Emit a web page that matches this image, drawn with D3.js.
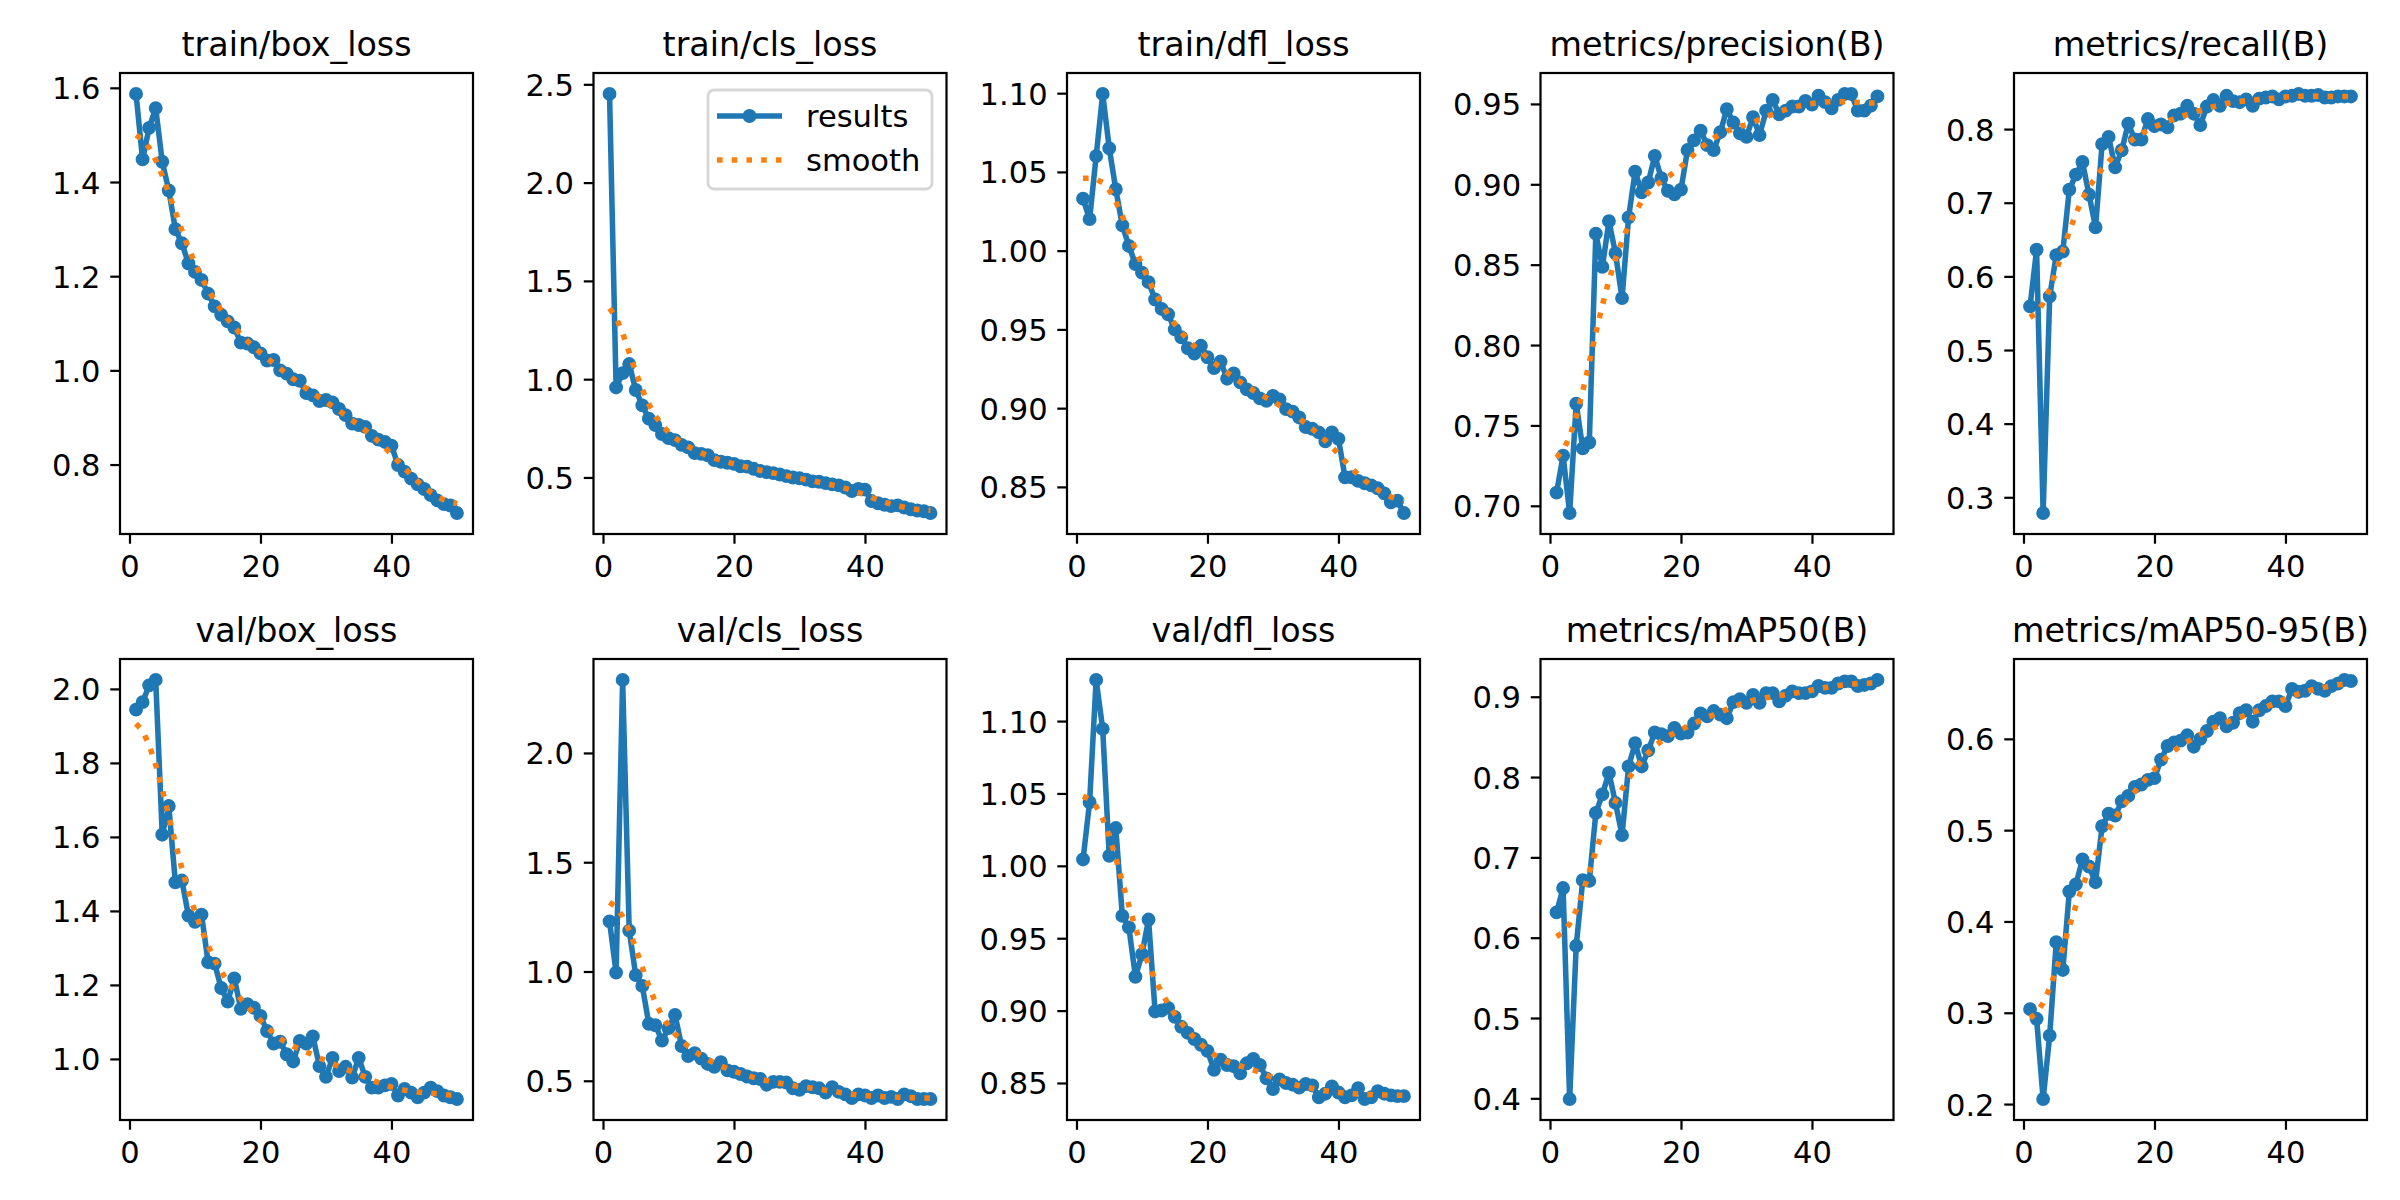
<!DOCTYPE html>
<html>
<head>
<meta charset="utf-8">
<script src="https://cdn.jsdelivr.net/npm/d3@7"></script>
<style>
  body { margin: 0; background: #fff; }
  svg { display: block; }
  text { font-family: "DejaVu Sans", sans-serif; fill: #000; }
</style>
</head>
<body>
<svg id="chart" width="2400" height="1200"></svg>
<script>
// ---------------- data ----------------
const epochs = d3.range(1, 51);

const titles = [
  "train/box_loss", "train/cls_loss", "train/dfl_loss", "metrics/precision(B)", "metrics/recall(B)",
  "val/box_loss", "val/cls_loss", "val/dfl_loss", "metrics/mAP50(B)", "metrics/mAP50-95(B)"
];

const trainBoxLoss = [1.587,1.448,1.515,1.557,1.443,1.382,1.300,1.270,1.227,1.209,
  1.192,1.163,1.136,1.118,1.104,1.091,1.059,1.057,1.049,1.036,
  1.021,1.022,1.000,0.993,0.981,0.978,0.952,0.947,0.935,0.937,
  0.932,0.918,0.905,0.887,0.884,0.880,0.861,0.853,0.848,0.840,
  0.799,0.785,0.770,0.758,0.748,0.735,0.724,0.716,0.713,0.697];

const trainClsLoss = [2.451,0.958,1.031,1.077,0.945,0.867,0.799,0.766,0.721,0.700,
  0.690,0.666,0.653,0.624,0.620,0.613,0.588,0.580,0.575,0.569,
  0.557,0.555,0.544,0.533,0.527,0.522,0.515,0.507,0.500,0.496,
  0.489,0.480,0.478,0.471,0.465,0.460,0.449,0.431,0.442,0.438,
  0.380,0.369,0.361,0.354,0.358,0.347,0.338,0.332,0.328,0.319];

const trainDflLoss = [1.033,1.020,1.060,1.0995,1.065,1.039,1.016,1.003,0.9915,0.986,
  0.980,0.969,0.963,0.9596,0.950,0.945,0.938,0.9346,0.9396,0.9323,
  0.9255,0.9296,0.9187,0.922,0.9164,0.9119,0.9096,0.9062,0.9046,0.9078,
  0.9055,0.8994,0.8978,0.8941,0.888,0.8869,0.8846,0.8789,0.8846,0.8805,
  0.8561,0.8561,0.8538,0.8523,0.851,0.8491,0.8459,0.8402,0.8413,0.8334];

const precision = [0.7082,0.7312,0.6955,0.7635,0.7357,0.7394,0.8693,0.8486,0.8771,0.8571,
  0.8292,0.8794,0.9079,0.895,0.9011,0.9177,0.9038,0.896,0.8938,0.8967,
  0.9213,0.9273,0.9333,0.9244,0.9213,0.9324,0.9467,0.9384,0.9317,0.9295,
  0.9418,0.9306,0.9458,0.9525,0.9435,0.9458,0.9484,0.9484,0.9518,0.9496,
  0.9551,0.9511,0.9473,0.9525,0.9562,0.9562,0.9458,0.9458,0.9489,0.9547];

const recall = [0.5593,0.6361,0.2786,0.5729,0.6288,0.6337,0.7178,0.7382,0.7553,0.711,
  0.6667,0.7796,0.7893,0.748,0.7713,0.8073,0.7859,0.7859,0.8136,0.8039,
  0.8063,0.8024,0.8185,0.8209,0.8316,0.8209,0.8054,0.8306,0.8394,0.8316,
  0.8452,0.8379,0.8365,0.8404,0.8316,0.8413,0.8428,0.8443,0.8404,0.8443,
  0.8452,0.8477,0.8452,0.8452,0.8462,0.8428,0.8428,0.8443,0.8443,0.8443];

const valBoxLoss = [1.9439,1.9642,2.0097,2.0242,1.606,1.6834,1.4773,1.4821,1.3872,1.3708,
  1.3901,1.2614,1.2575,1.1917,1.1549,1.2178,1.1355,1.1481,1.1384,1.1162,
  1.0755,1.0416,1.0465,1.0126,0.9932,1.0484,1.0416,1.061,0.9806,0.9516,
  1.0029,0.9671,0.9787,0.9497,1.0029,0.9516,0.9226,0.9226,0.9284,0.9322,
  0.9012,0.9187,0.909,0.8964,0.909,0.9226,0.913,0.9012,0.8964,0.8916];

const valClsLoss = [1.2295,0.995,2.334,1.187,0.9836,0.934,0.7607,0.754,0.6836,0.741,
  0.8016,0.659,0.6131,0.6262,0.6016,0.577,0.564,0.5852,0.5475,0.541,
  0.5311,0.5197,0.5115,0.5082,0.482,0.4951,0.4951,0.4918,0.4656,0.459,
  0.4754,0.4705,0.4656,0.4459,0.4705,0.4492,0.4377,0.4213,0.4377,0.4328,
  0.4213,0.4328,0.4213,0.4262,0.4164,0.4377,0.4295,0.4164,0.4164,0.4164];

const valDflLoss = [1.0044,1.0439,1.1284,1.0946,1.0069,1.0261,0.9654,0.9575,0.9234,0.9389,
  0.9629,0.8994,0.9001,0.9019,0.8957,0.8888,0.8846,0.8804,0.8764,0.8722,
  0.8591,0.8661,0.8624,0.8616,0.8567,0.8636,0.8666,0.8624,0.8532,0.8458,
  0.8525,0.85,0.8488,0.8468,0.8493,0.8483,0.8401,0.8426,0.8476,0.8434,
  0.8401,0.8414,0.8464,0.8389,0.8401,0.8443,0.8426,0.8414,0.8409,0.8409];

const mAP50 = [0.6315,0.6618,0.3991,0.5897,0.6716,0.6707,0.7553,0.7784,0.8052,0.7678,
  0.7277,0.8132,0.8421,0.8132,0.8332,0.8555,0.8533,0.851,0.8613,0.8541,
  0.8555,0.8666,0.8791,0.8755,0.8822,0.8777,0.8733,0.8933,0.8969,0.8924,
  0.9022,0.8924,0.9045,0.9045,0.8942,0.9013,0.9067,0.9045,0.9045,0.9067,
  0.9134,0.9111,0.9111,0.9165,0.9191,0.9191,0.9134,0.9147,0.9165,0.9209];

const mAP5095 = [0.3039,0.2934,0.2055,0.275,0.3773,0.3469,0.4328,0.4406,0.468,0.4602,
  0.443,0.5043,0.518,0.516,0.5316,0.5375,0.5473,0.55,0.5551,0.557,
  0.5773,0.5922,0.5961,0.598,0.6039,0.5914,0.6,0.6086,0.6188,0.6227,
  0.6137,0.6176,0.6281,0.6313,0.6188,0.6313,0.6359,0.641,0.641,0.6359,
  0.6547,0.6516,0.6527,0.6578,0.6547,0.6527,0.6578,0.6605,0.6645,0.6633];

const seriesList = [trainBoxLoss, trainClsLoss, trainDflLoss, precision, recall,
                    valBoxLoss, valClsLoss, valDflLoss, mAP50, mAP5095];

const yTickValues = [
  [0.8, 1.0, 1.2, 1.4, 1.6],
  [0.5, 1.0, 1.5, 2.0, 2.5],
  [0.85, 0.90, 0.95, 1.00, 1.05, 1.10],
  [0.70, 0.75, 0.80, 0.85, 0.90, 0.95],
  [0.3, 0.4, 0.5, 0.6, 0.7, 0.8],
  [1.0, 1.2, 1.4, 1.6, 1.8, 2.0],
  [0.5, 1.0, 1.5, 2.0],
  [0.85, 0.90, 0.95, 1.00, 1.05, 1.10],
  [0.4, 0.5, 0.6, 0.7, 0.8, 0.9],
  [0.2, 0.3, 0.4, 0.5, 0.6]
];
const yTickDecimals = [1, 1, 2, 2, 1, 1, 1, 2, 1, 1];
const xTickValues = [0, 20, 40];
const legendLabels = ["results", "smooth"];

// ---------------- style / layout ----------------
const C0 = "#1f77b4", C1 = "#ff7f0e";
const PT = 200 / 72;                 // 1pt in px at 200 dpi
const colLeft = [120, 593.5, 1067, 1540.5, 2014];
const rowTop = [73, 659];
const axW = 353, axH = 461;
const tickLen = 3.5 * PT, tickPad = 3.5 * PT;
const tickFont = 11 * PT, titleFont = 12 * PT;

// smoothing as in the original plot (gaussian filter, sigma 3, reflect edges)
function gaussianSmooth(y, sigma) {
  const r = Math.floor(4 * sigma + 0.5);
  const w = d3.range(-r, r + 1).map(k => Math.exp(-0.5 * k * k / (sigma * sigma)));
  const s = d3.sum(w);
  const n = y.length;
  const idx = i => { while (i < 0 || i >= n) { i = i < 0 ? -i - 1 : 2 * n - i - 1; } return i; };
  return y.map((_, i) => d3.sum(w, (wk, j) => wk * y[idx(i + j - r)]) / s);
}

const svg = d3.select("#chart");
svg.append("rect").attr("width", 2400).attr("height", 1200).attr("fill", "#fff");

seriesList.forEach((vals, k) => {
  const left = colLeft[k % 5], top = rowTop[Math.floor(k / 5)];
  const smooth = gaussianSmooth(vals, 3);
  const xmin = d3.min(epochs), xmax = d3.max(epochs);
  const xm = (xmax - xmin) * 0.05;
  const x = d3.scaleLinear().domain([xmin - xm, xmax + xm]).range([left, left + axW]);
  const ymin = Math.min(d3.min(vals), d3.min(smooth)), ymax = Math.max(d3.max(vals), d3.max(smooth));
  const ym = (ymax - ymin) * 0.05;
  const y = d3.scaleLinear().domain([ymin - ym, ymax + ym]).range([top + axH, top]);

  const g = svg.append("g");
  const clipId = "clip" + k;
  g.append("clipPath").attr("id", clipId).append("rect")
    .attr("x", left).attr("y", top).attr("width", axW).attr("height", axH);

  const plot = g.append("g").attr("clip-path", `url(#${clipId})`);
  const line = d3.line().x((d, i) => x(epochs[i])).y(d => y(d));

  plot.append("path").datum(vals).attr("d", line)
    .attr("fill", "none").attr("stroke", C0).attr("stroke-width", 2 * PT)
    .attr("stroke-linejoin", "round").attr("stroke-linecap", "square");
  plot.selectAll("circle").data(vals).join("circle")
    .attr("cx", (d, i) => x(epochs[i])).attr("cy", d => y(d))
    .attr("r", 2 * PT).attr("fill", C0).attr("stroke", C0).attr("stroke-width", 1 * PT);
  plot.append("path").datum(smooth).attr("d", line)
    .attr("fill", "none").attr("stroke", C1).attr("stroke-width", 2 * PT)
    .attr("stroke-dasharray", `${2 * PT} ${1.65 * 2 * PT}`).attr("stroke-linecap", "butt");

  // axes via d3 axis generators
  const xAxis = d3.axisBottom(x).tickValues(xTickValues).tickFormat(d3.format("d"))
    .tickSizeInner(tickLen).tickSizeOuter(0).tickPadding(tickPad);
  const yAxis = d3.axisLeft(y).tickValues(yTickValues[k]).tickFormat(d3.format("." + yTickDecimals[k] + "f"))
    .tickSizeInner(tickLen).tickSizeOuter(0).tickPadding(tickPad);

  const gx = g.append("g").attr("transform", `translate(0,${top + axH})`).call(xAxis);
  const gy = g.append("g").attr("transform", `translate(${left},0)`).call(yAxis);
  [gx, gy].forEach(a => {
    a.select(".domain").remove();
    a.selectAll(".tick line").attr("stroke", "#000").attr("stroke-width", 0.8 * PT);
    a.selectAll(".tick text").attr("font-family", "DejaVu Sans").attr("font-size", tickFont).attr("fill", "#000");
  });
  gx.selectAll(".tick text").attr("dy", null).attr("y", tickLen + tickPad + 0.76 * tickFont);
  gy.selectAll(".tick text").attr("dy", "0.36em");

  // spines
  g.append("rect").attr("x", left).attr("y", top).attr("width", axW).attr("height", axH)
    .attr("fill", "none").attr("stroke", "#000").attr("stroke-width", 0.8 * PT);

  // title
  g.append("text").attr("x", left + axW / 2).attr("y", top - 6 * PT)
    .attr("text-anchor", "middle").attr("font-size", titleFont).text(titles[k]);

  // legend on second subplot
  if (k === 1) {
    const lg = g.append("g");
    const lx = 708, ly = 90, lw = 224, lh = 99;
    lg.append("rect").attr("x", lx).attr("y", ly).attr("width", lw).attr("height", lh)
      .attr("rx", 0.2 * tickFont).attr("fill", "#fff").attr("fill-opacity", 0.8)
      .attr("stroke", "#cccccc").attr("stroke-opacity", 0.8).attr("stroke-width", 1 * PT);
    const hx0 = 717, hx1 = 782, tx = 806;
    const rows = [116, 160];
    lg.append("line").attr("x1", hx0).attr("x2", hx1).attr("y1", rows[0]).attr("y2", rows[0])
      .attr("stroke", C0).attr("stroke-width", 2 * PT);
    lg.append("circle").attr("cx", (hx0 + hx1) / 2).attr("cy", rows[0]).attr("r", 2 * PT)
      .attr("fill", C0).attr("stroke", C0).attr("stroke-width", 1 * PT);
    lg.append("line").attr("x1", hx0).attr("x2", hx1).attr("y1", rows[1]).attr("y2", rows[1])
      .attr("stroke", C1).attr("stroke-width", 2 * PT)
      .attr("stroke-dasharray", `${2 * PT} ${1.65 * 2 * PT}`);
    legendLabels.forEach((t, i) => {
      lg.append("text").attr("x", tx).attr("y", rows[i]).attr("dy", "0.36em")
        .attr("font-size", tickFont).text(t);
    });
  }
});
</script>
</body>
</html>
